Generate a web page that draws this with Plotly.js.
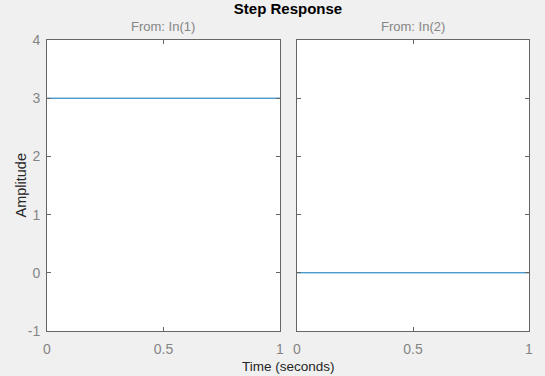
<!DOCTYPE html>
<html><head><meta charset="utf-8">
<script src="https://cdn.plot.ly/plotly-3.0.1.min.js"></script>
<style>html,body{margin:0;padding:0;background:#f0f0f0;}</style>
</head><body>
<div id="chart" style="width:545px;height:376px;"></div>
<script>
const time = [0, 1];
const respIn1 = [3, 3];
const respIn2 = [0, 0];
const subTitles = ["From: In(1)", "From: In(2)"];
const xTicks = [0, 0.5, 1];
const xTickText = ["0", "0.5", "1"];
const yTicks = [-1, 0, 1, 2, 3, 4];
const yTickText = ["-1", "0", "1", "2", "3", "4"];

const lineColor = "#0072BD";
const axisColor = "#666666";
const tickFontColor = "#858585";
const font = "Liberation Sans, Arial, sans-serif";

const traces = [
  {x: time, y: respIn1, xaxis: "x", yaxis: "y", mode: "lines", line: {color: lineColor, width: 1}, hoverinfo: "skip"},
  {x: time, y: respIn2, xaxis: "x2", yaxis: "y2", mode: "lines", line: {color: lineColor, width: 1}, hoverinfo: "skip"}
];

const xBase = {range: [0, 1], tickvals: xTicks, ticktext: xTickText, ticks: "inside", ticklen: 4, tickcolor: axisColor,
  showline: true, linecolor: axisColor, linewidth: 1, mirror: "ticks", showgrid: false, zeroline: false,
  ticklabelstandoff: 5,
  tickfont: {family: font, size: 14, color: tickFontColor}};
const yBase = {range: [-1, 4], tickvals: yTicks, ticktext: yTickText, ticks: "inside", ticklen: 4, tickcolor: axisColor,
  showline: true, linecolor: axisColor, linewidth: 1, mirror: "ticks", showgrid: false, zeroline: false,
  ticklabelstandoff: 3,
  tickfont: {family: font, size: 14, color: tickFontColor}};

const layout = {
  width: 545, height: 376,
  paper_bgcolor: "#f0f0f0", plot_bgcolor: "#ffffff",
  margin: {l: 47, r: 16, t: 40, b: 45},
  showlegend: false,
  title: {text: "<b>Step Response</b>", font: {family: font, size: 15, color: "#000000"}, x: 0.5, xref: "paper", xanchor: "center", y: 0.99, yanchor: "top"},
  xaxis: Object.assign({}, xBase, {domain: [0, 0.4834], anchor: "y"}),
  xaxis2: Object.assign({}, xBase, {domain: [0.5187, 1], anchor: "y2"}),
  yaxis: Object.assign({}, yBase, {domain: [0, 1], anchor: "x"}),
  yaxis2: Object.assign({}, yBase, {domain: [0, 1], anchor: "x2", showticklabels: false}),
  annotations: [
    {text: subTitles[0], xref: "paper", yref: "paper", x: 0.2417, y: 1, yshift: 4, xanchor: "center", yanchor: "bottom", showarrow: false, font: {family: font, size: 13, color: tickFontColor}},
    {text: subTitles[1], xref: "paper", yref: "paper", x: 0.7593, y: 1, yshift: 4, xanchor: "center", yanchor: "bottom", showarrow: false, font: {family: font, size: 13, color: tickFontColor}},
    {text: "Time (seconds)", xref: "paper", yref: "paper", x: 0.5, y: 0, yshift: -26, xanchor: "center", yanchor: "top", showarrow: false, font: {family: font, size: 13.5, color: "#262626"}},
    {text: "Amplitude", xref: "paper", yref: "paper", x: 0, xshift: -27, y: 0.5, yshift: 0, xanchor: "center", yanchor: "middle", textangle: -90, showarrow: false, font: {family: font, size: 14.5, color: "#262626"}}
  ]
};

Plotly.newPlot("chart", traces, layout, {displayModeBar: false, staticPlot: true});
</script>
</body></html>
